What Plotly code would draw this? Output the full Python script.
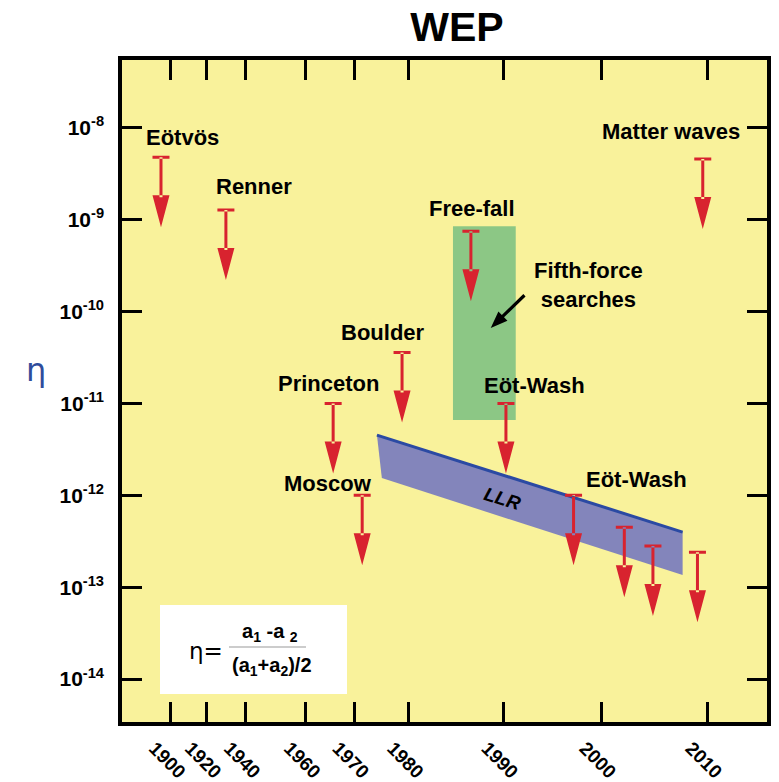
import numpy as np
import plotly.graph_objects as go

# ---- time axis: labelled years and where they sit on the (non-uniform) timeline
tick_years = [1900, 1920, 1940, 1960, 1970, 1980, 1990, 2000, 2010]
tick_pos = [48.5, 84.4, 123.4, 183.5, 232.0, 286.6, 381.0, 479.0, 585.0]

# ---- eta axis decades
eta_decades = [-8, -9, -10, -11, -12, -13, -14]

# ---- upper limits on eta (year of experiment, limit)
limit_years = [1894.7, 1930.0, 1965.7, 1971.5, 1978.8, 1986.6, 1990.3,
               1997.2, 2002.2, 2004.9, 2009.1, 2009.6]
limit_eta = [4.8e-9, 1.28e-9, 1.0e-11, 1.0e-12, 3.6e-11, 7.5e-10, 1.0e-11,
             1.0e-12, 4.5e-13, 2.8e-13, 2.4e-13, 4.6e-9]
limit_names = ["Eötvös", "Renner", "Princeton", "Moscow", "Boulder", "Free-fall",
               "Eöt-Wash", "Eöt-Wash", "", "", "", "Matter waves"]

# ---- fifth-force searches region
fifth_years = [1984.7, 1991.3]
fifth_eta = [6.6e-12, 8.5e-10]

# ---- lunar laser ranging band (corners: top-left, top-right, bottom-right, bottom-left)
llr_years = [1974.2, 2007.7, 2007.7, 1975.1]
llr_eta = [4.53e-12, 3.98e-13, 1.355e-13, 1.54e-12]


def year_to_pos(year):
    """Map calendar years onto the piecewise-linear timeline axis."""
    yr = np.atleast_1d(np.asarray(year, dtype=float))
    pos = np.interp(yr, tick_years, tick_pos)
    s_lo = (tick_pos[1] - tick_pos[0]) / (tick_years[1] - tick_years[0])
    s_hi = (tick_pos[-1] - tick_pos[-2]) / (tick_years[-1] - tick_years[-2])
    lo = yr < tick_years[0]
    hi = yr > tick_years[-1]
    pos[lo] = tick_pos[0] + (yr[lo] - tick_years[0]) * s_lo
    pos[hi] = tick_pos[-1] + (yr[hi] - tick_years[-1]) * s_hi
    return pos


RED = "#d8232f"
FONT = "Liberation Sans, Arial, sans-serif"

fig = go.Figure()

# LLR band
band_x = list(year_to_pos(llr_years)) + [year_to_pos(llr_years[0])[0]]
band_y = list(np.log10(llr_eta)) + [np.log10(llr_eta[0])]
fig.add_trace(go.Scatter(x=band_x, y=band_y, mode="lines", fill="toself",
                         fillcolor="#8385bb", line=dict(width=0),
                         hoverinfo="skip", showlegend=False))
fig.add_trace(go.Scatter(x=year_to_pos(llr_years[:2]), y=np.log10(llr_eta[:2]),
                         mode="lines", line=dict(color="#2b4aa3", width=3),
                         hoverinfo="skip", showlegend=False))

shapes = []
annotations = []

# fifth-force region
fx = year_to_pos(fifth_years)
fy = np.log10(fifth_eta)
shapes.append(dict(type="rect", xref="x", yref="y", x0=fx[0], x1=fx[1], y0=fy[0], y1=fy[1],
                   fillcolor="#8cc785", line=dict(width=0), layer="below"))

# upper-limit arrows: bar cap, shaft and head, drawn in pixels below each limit
arrow_path = ("M-8.5,1.5 L8.5,1.5 L8.5,-1.5 L-8.5,-1.5 Z "
              "M-1.5,0 L1.5,0 L1.5,-40 L-1.5,-40 Z "
              "M-8.5,-38 L8.5,-38 L0,-70 Z")
lx = year_to_pos(limit_years)
ly = np.log10(limit_eta)
for xv, yv in zip(lx, ly):
    shapes.append(dict(type="path", xref="x", yref="y", xsizemode="pixel", ysizemode="pixel",
                       xanchor=xv, yanchor=yv, path=arrow_path,
                       fillcolor=RED, line=dict(width=0)))

# label offsets (pixels) from each limit's cap
label_shift = {
    "Eötvös": (22, 20), "Renner": (28, 23), "Princeton": (-5, 20), "Moscow": (-34, 12),
    "Boulder": (-19, 20), "Free-fall": (1, 23), "Matter waves": (-32, 27),
}
wash_shift = [(29, 18), (63, 16)]
wash_i = 0
for name, xv, yv in zip(limit_names, lx, ly):
    if not name:
        continue
    if name == "Eöt-Wash":
        dx, dy = wash_shift[wash_i]
        wash_i += 1
    else:
        dx, dy = label_shift[name]
    annotations.append(dict(x=xv, y=yv, xref="x", yref="y", text=name, showarrow=False,
                            xshift=dx, yshift=dy, xanchor="center", yanchor="middle",
                            font=dict(family=FONT, size=22, color="black", weight="bold")))

# fifth-force label with pointer arrow
tip_x = year_to_pos(1988.7)[0]
tip_y = -10.178
ang = np.arctan2(33, 34)
u = np.array([np.cos(ang), np.sin(ang)])
p = np.array([-u[1], u[0]])
L, head_len, head_w, shaft_w = 47.0, 17.0, 6.5, 1.6
base = u * head_len
tail = u * L
pts_head = [np.zeros(2), base + p * head_w, base - p * head_w]
pts_shaft = [base + p * shaft_w, tail + p * shaft_w, tail - p * shaft_w, base - p * shaft_w]
def _poly(pts):
    return "M" + " L".join(f"{a:.2f},{b:.2f}" for a, b in pts) + " Z"
shapes.append(dict(type="path", xref="x", yref="y", xsizemode="pixel", ysizemode="pixel",
                   xanchor=tip_x, yanchor=tip_y, path=_poly(pts_head) + " " + _poly(pts_shaft),
                   fillcolor="black", line=dict(width=0)))
annotations.append(dict(x=tip_x, y=tip_y, xref="x", yref="y",
                        text="Fifth-force<br>searches", showarrow=False,
                        xshift=98, yshift=43, align="center", xanchor="center", yanchor="middle",
                        font=dict(family=FONT, size=22, color="black", weight="bold")))

# LLR label along the band
annotations.append(dict(x=year_to_pos(1989.9)[0], y=-12.03, xref="x", yref="y",
                        text="<b><i>LLR</i></b>", showarrow=False, textangle=17,
                        xanchor="center", yanchor="middle",
                        font=dict(family=FONT, size=19, color="black")))

# plot-area pixel helpers for the formula inset
PL, PR, PT, PB = 122, 767, 60, 722
def px(xp):
    return (xp - PL) / (PR - PL)
def py(yp):
    return (PB - yp) / (PB - PT)

shapes.append(dict(type="rect", xref="paper", yref="paper", x0=px(160), x1=px(347),
                   y0=py(694), y1=py(605), fillcolor="white", line=dict(width=0)))
shapes.append(dict(type="line", xref="paper", yref="paper", x0=px(229), x1=px(306),
                   y0=py(647), y1=py(647), line=dict(color="#999999", width=1.2)))
annotations.append(dict(x=px(206), y=py(651), xref="paper", yref="paper", text="η=",
                        showarrow=False, xanchor="center", yanchor="middle",
                        font=dict(family="DejaVu Sans, sans-serif", size=23, color="black")))
annotations.append(dict(x=px(270), y=py(632), xref="paper", yref="paper",
                        text="a<sub>1</sub> -a <sub>2</sub>", showarrow=False,
                        xanchor="center", yanchor="middle",
                        font=dict(family=FONT, size=20, color="black", weight="bold")))
annotations.append(dict(x=px(272), y=py(666), xref="paper", yref="paper",
                        text="(a<sub>1</sub>+a<sub>2</sub>)/2", showarrow=False,
                        xanchor="center", yanchor="middle",
                        font=dict(family=FONT, size=20, color="black", weight="bold")))

# eta axis symbol
annotations.append(dict(x=px(36), y=py(370), xref="paper", yref="paper", text="η",
                        showarrow=False, xanchor="center", yanchor="middle",
                        font=dict(family="DejaVu Sans, sans-serif", size=32, color="#2f4c9c")))

fig.update_layout(
    width=779, height=782,
    margin=dict(l=PL, r=779 - PR, t=PT, b=782 - PB),
    paper_bgcolor="white", plot_bgcolor="#f9f29b",
    title=dict(text="<b>WEP</b>", x=457 / 779, xref="container", xanchor="center",
               y=1 - 27 / 782, yref="container", yanchor="middle",
               font=dict(family=FONT, size=41, color="black")),
    shapes=shapes, annotations=annotations, showlegend=False,
)
fig.update_xaxes(range=[0, PR - PL], tickvals=tick_pos, ticktext=[str(y) for y in tick_years],
                 tickangle=45, ticks="inside", ticklen=20, tickwidth=3, tickcolor="black",
                 showline=True, linewidth=3.5, linecolor="black", mirror="allticks",
                 showgrid=False, zeroline=False, ticklabelshift=-16, ticklabelstandoff=4,
                 automargin=False,
                 tickfont=dict(family=FONT, size=19, color="black", weight="bold"))
fig.update_yaxes(range=[-14.468, -7.26], tickvals=eta_decades,
                 ticktext=[f"10<sup>{d}</sup>" for d in eta_decades],
                 ticks="inside", ticklen=20, tickwidth=3, tickcolor="black",
                 showline=True, linewidth=3.5, linecolor="black", mirror="allticks",
                 showgrid=False, zeroline=False, ticklabelstandoff=10, automargin=False,
                 tickfont=dict(family=FONT, size=21, color="black", weight="bold"))

fig.write_html("out.html")
